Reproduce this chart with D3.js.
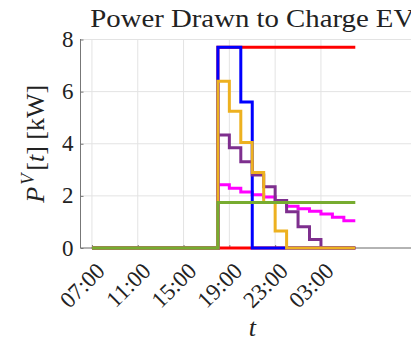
<!DOCTYPE html>
<html lang="en">
<head>
    <meta charset="UTF-8">
    <title>Power Drawn to Charge EV</title>
    <script src="https://cdn.jsdelivr.net/npm/d3@7"></script>
    <style>
        body { margin: 0; background: #fff; }
        text { font-family: "Liberation Serif", "Times New Roman", serif; fill: #222; }
    </style>
</head>
<body>
<script>

    // hourly samples, 07:00 through 06:00 next morning
    var times = ["07:00", "08:00", "09:00", "10:00", "11:00", "12:00", "13:00", "14:00",
                 "15:00", "16:00", "17:00", "18:00", "19:00", "20:00", "21:00", "22:00",
                 "23:00", "00:00", "01:00", "02:00", "03:00", "04:00", "05:00", "06:00"];

    var tickLabels = ["07:00", "11:00", "15:00", "19:00", "23:00", "03:00"];
    var yTicks = [0, 2, 4, 6, 8];

    var redIdle  = [0, 0, 0, 0, 0, 0, 0, 0, 0, 0, 0, 0, 0, 0, 0, 0, 0, 0, 0, 0, 0, 0, 0, 0];
    var redLimit = [0, 0, 0, 0, 0, 0, 0, 0, 0, 0, 0, 7.7, 7.7, 7.7, 7.7, 7.7, 7.7, 7.7, 7.7, 7.7, 7.7, 7.7, 7.7, 7.7];
    var magenta  = [0, 0, 0, 0, 0, 0, 0, 0, 0, 0, 0, 2.43, 2.29, 2.15, 2.04, 1.96, 1.82, 1.6, 1.51, 1.41, 1.3, 1.18, 1.05, 1.05];
    var blue     = [0, 0, 0, 0, 0, 0, 0, 0, 0, 0, 0, 7.7, 7.7, 5.6, 0, 0, 0, 0, 0, 0, 0, 0, 0, 0];
    var purple   = [0, 0, 0, 0, 0, 0, 0, 0, 0, 0, 0, 4.34, 3.85, 3.31, 2.8, 2.35, 1.82, 1.39, 0.82, 0.33, 0, 0, 0, 0];
    var yellow   = [0, 0, 0, 0, 0, 0, 0, 0, 0, 0, 0, 6.4, 5.25, 4.05, 2.9, 1.75, 0.65, 0, 0, 0, 0, 0, 0, 0];
    var green    = [0, 0, 0, 0, 0, 0, 0, 0, 0, 0, 0, 1.75, 1.75, 1.75, 1.75, 1.75, 1.75, 1.75, 1.75, 1.75, 1.75, 1.75, 1.75, 1.75];

    // drawing order, bottom to top
    var series = [
        {values: redIdle,  color: "#ff0000"},
        {values: redLimit, color: "#ff0000"},
        {values: magenta,  color: "#ff00ff"},
        {values: blue,     color: "#0000ff"},
        {values: purple,   color: "#7e2f8e"},
        {values: yellow,   color: "#edb120"},
        {values: green,    color: "#77ac30"}
    ];

    var W = 411, H = 344;
    var pLeft = 80.5, pRight = 424, pTop = 39.5, pBottom = 248;

    var svg = d3.select("body")
            .append("svg")
            .attr("width", W)
            .attr("height", H);

    var x = d3.scaleLinear().domain([-1, 29]).range([pLeft, pRight]);
    var y = d3.scaleLinear().domain([0, 8]).range([pBottom, pTop]);

    var xTickPos = tickLabels.map(function(t) { return times.indexOf(t); });

    // grid
    svg.append("g").selectAll("line")
            .data(xTickPos)
            .enter().append("line")
            .attr("x1", function(d) { return x(d); })
            .attr("x2", function(d) { return x(d); })
            .attr("y1", pTop).attr("y2", pBottom)
            .style("stroke", "#e3e3e3").style("stroke-width", 1);

    svg.append("g").selectAll("line")
            .data(yTicks)
            .enter().append("line")
            .attr("x1", pLeft).attr("x2", pRight)
            .attr("y1", function(d) { return y(d); })
            .attr("y2", function(d) { return y(d); })
            .style("stroke", "#e3e3e3").style("stroke-width", 1);

    // axes
    var yAxis = svg.append("g")
            .attr("transform", "translate(" + pLeft + ",0)")
            .call(d3.axisRight(y).tickValues(yTicks).tickSize(3).tickFormat(""));
    var xAxis = svg.append("g")
            .attr("transform", "translate(0," + pBottom + ")")
            .call(d3.axisTop(x).tickValues(xTickPos).tickSize(3).tickFormat(""));
    svg.selectAll(".domain").style("stroke", "#777");
    yAxis.select(".domain").attr("d", "M0," + (pTop - 0.5) + "V" + pBottom);
    xAxis.select(".domain").attr("d", "M" + pLeft + ",0H" + pRight);
    svg.selectAll(".tick line").style("stroke", "#777");

    // tick labels
    svg.append("g").selectAll("text")
            .data(yTicks)
            .enter().append("text")
            .attr("x", pLeft - 7)
            .attr("y", function(d) { return y(d); })
            .attr("text-anchor", "end")
            .attr("dominant-baseline", "central")
            .style("font-size", "23px")
            .text(function(d) { return d; });

    svg.append("g").selectAll("text")
            .data(tickLabels)
            .enter().append("text")
            .attr("text-anchor", "end")
            .attr("dominant-baseline", "central")
            .attr("transform", function(d) {
                return "translate(" + (x(times.indexOf(d)) + 9) + "," + (pBottom + 19) + ") rotate(-45)";
            })
            .style("font-size", "23px")
            .text(function(d) { return d; });

    // series
    var line = d3.line()
            .x(function(d, i) { return x(i); })
            .y(function(d) { return y(d); })
            .curve(d3.curveStepAfter);

    svg.append("g").selectAll("path")
            .data(series)
            .enter().append("path")
            .attr("d", function(d) { return line(d.values); })
            .style("fill", "none")
            .style("stroke", function(d) { return d.color; })
            .style("stroke-width", 3);

    // title and labels
    svg.append("text")
            .attr("x", (pLeft + pRight) / 2)
            .attr("y", 26.5)
            .attr("text-anchor", "middle")
            .attr("textLength", 324)
            .attr("lengthAdjust", "spacingAndGlyphs")
            .style("font-size", "26px")
            .text("Power Drawn to Charge EV");

    svg.append("text")
            .attr("x", (pLeft + pRight) / 2)
            .attr("y", 336)
            .attr("text-anchor", "middle")
            .style("font-size", "26px")
            .style("font-style", "italic")
            .text("t");

    var ylab = svg.append("text")
            .attr("transform", "translate(44," + ((pTop + pBottom) / 2) + ") rotate(-90)")
            .attr("text-anchor", "middle")
            .style("font-size", "26px");
    ylab.append("tspan").style("font-style", "italic").text("P");
    ylab.append("tspan").style("font-style", "italic").style("font-size", "18px")
            .attr("dx", 2).attr("dy", -10).text("V");
    ylab.append("tspan").attr("dx", 3).attr("dy", 10).text("[");
    ylab.append("tspan").style("font-style", "italic").text("t");
    ylab.append("tspan").text("] [kW]");

</script>
</body>
</html>
